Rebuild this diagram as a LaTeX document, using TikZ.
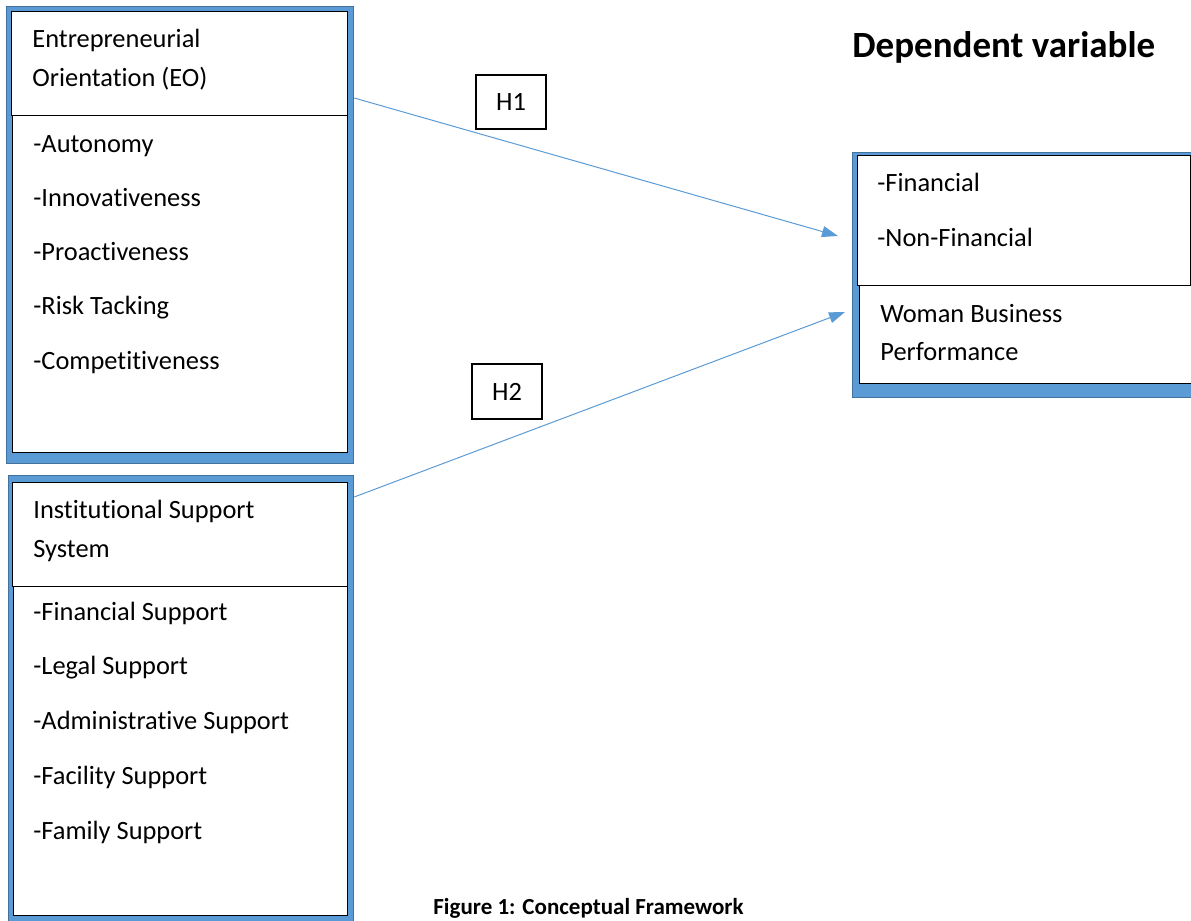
\documentclass[tikz,border=0pt]{standalone}
\usepackage{fontspec}
\setmainfont{Carlito}[Ligatures=NoCommon]
\usetikzlibrary{arrows.meta}
\definecolor{framefill}{HTML}{5B9BD5}
\definecolor{frameline}{HTML}{41719C}
\definecolor{linkblue}{HTML}{5B9BD5}
\tikzset{
  frame/.style={draw=frameline, fill=framefill, line width=0.6pt, inner sep=0pt, anchor=north west},
  cell/.style={draw=black, fill=white, line width=0.7pt, inner sep=0pt, anchor=north west},
  label/.style={inner sep=0pt, anchor=base west, font=\fontsize{13.2}{16}\selectfont},
  hyp/.style={draw=black, line width=0.6pt, minimum width=35pt, minimum height=27pt, inner sep=0pt, font=\fontsize{13.2}{16}\selectfont},
  link/.style={draw=linkblue, line width=0.5pt, -{Triangle[length=8pt,width=5.5pt]}}
}
\begin{document}
\begin{tikzpicture}[x=0.5pt,y=-0.5pt]
  \useasboundingbox (0,0) rectangle (1191,921);
  \clip (0,0) rectangle (1191,921);
  % entrepreneurial orientation
  \node[frame, minimum width=173.5pt, minimum height=228.5pt] (eo) at (6,6) {};
  \node[cell, minimum width=168pt, minimum height=52pt] (eo-top) at (11,11) {};
  \node[cell, minimum width=167.5pt, minimum height=168.5pt] (eo-list) at (12,115) {};
  \node[label] (eo-t1) at (32,47) {Entrepreneurial};
  \node[label] (eo-t2) at (32,86) {Orientation (EO)};
  \foreach \txt [count=\i from 0] in {Autonomy,Innovativeness,Proactiveness,Risk Tacking,Competitiveness} {
    \node[label] (eo-\i) at (33,152+54.3*\i) {-\txt};
  }
  % institutional support
  \node[frame, minimum width=172.5pt, minimum height=227.5pt] (iss) at (8,475) {};
  \node[cell, minimum width=167.5pt, minimum height=52pt] (iss-top) at (12,482) {};
  \node[cell, minimum width=167pt, minimum height=164.5pt] (iss-list) at (13,586) {};
  \node[label] (iss-t1) at (33,518) {Institutional Support};
  \node[label] (iss-t2) at (33,557) {System};
  \foreach \txt [count=\i from 0] in {Financial Support,Legal Support,Administrative Support,Facility Support,Family Support} {
    \node[label] (iss-\i) at (33,620+54.8*\i) {-\txt};
  }
  % dependent variable
  \node[label, font=\fontsize{18.5}{22}\selectfont\bfseries] (dv-head) at (852,57) {Dependent variable};
  \node[frame, minimum width=174pt, minimum height=122.5pt] (dv) at (852,152) {};
  \node[cell, minimum width=166.5pt, minimum height=65pt] (dv-top) at (857,155) {};
  \node[cell, minimum width=168pt, minimum height=49pt] (dv-low) at (859,285) {};
  \node[label] (dv-1) at (877,191) {-Financial};
  \node[label] (dv-2) at (877,246) {-Non-Financial};
  \node[label] (dv-t1) at (880,322) {Woman Business};
  \node[label] (dv-t2) at (880,360) {Performance};
  % hypotheses
  \node[hyp] (h1) at (511,102) {H1};
  \node[hyp, minimum height=27.5pt] (h2) at (507,391.5) {H2};
  \draw[link] ([shift={(0,92)}]eo.north east) -- ([shift={(-14,84)}]dv.north west);
  \draw[link] ([shift={(0,22)}]iss.north east) -- ([shift={(-7,160)}]dv.north west);
  \node[label, font=\fontsize{11.5}{14}\selectfont\bfseries] (caption) at (433,914) {Figure 1: Conceptual Framework};
\end{tikzpicture}
\end{document}
